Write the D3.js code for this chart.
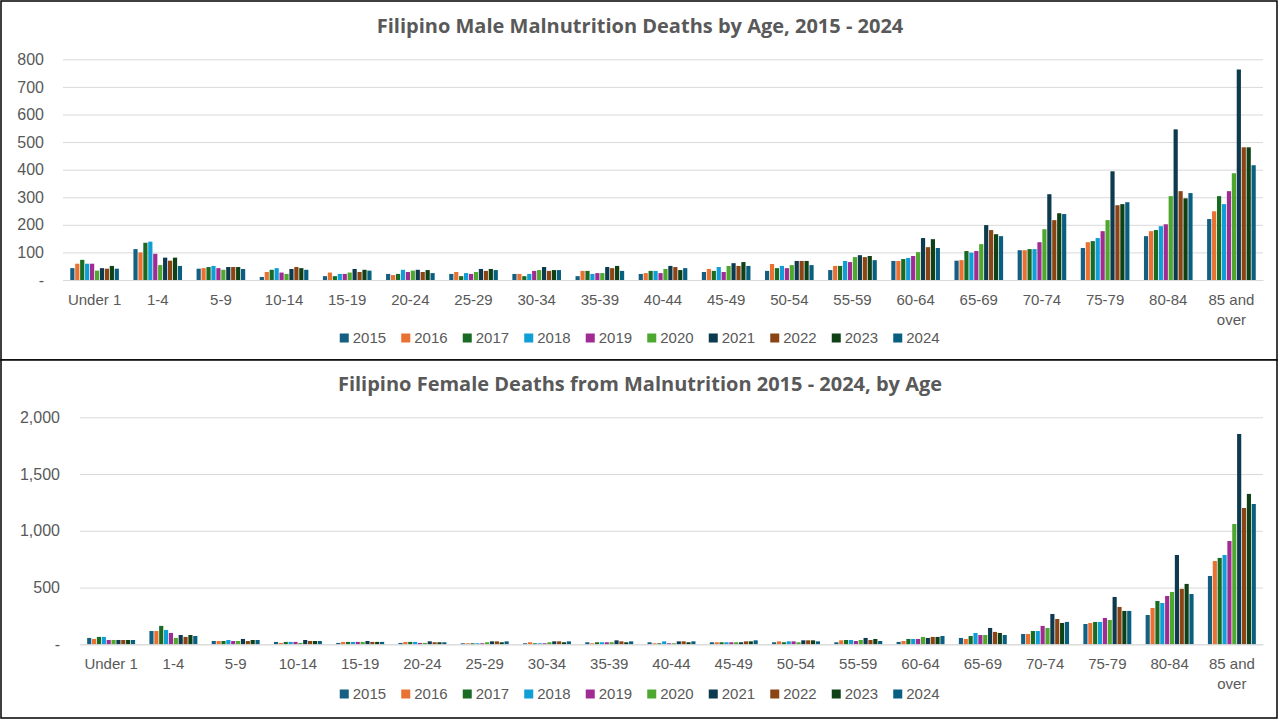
<!DOCTYPE html>
<html>
<head>
<meta charset="utf-8">
<script src="https://cdn.jsdelivr.net/npm/d3@7"></script>
<style>
  body { margin: 0; background: #fff; }
  svg text { font-family: "Liberation Sans", Arial, sans-serif; fill: #595959; }
  .title { font-family: "Open Sans", "Liberation Sans", sans-serif; font-weight: 700; }
</style>
</head>
<body>
<svg id="chart" width="1280" height="720"></svg>
<script>
// age groups (x categories) and legend years
const ageGroups = ['Under 1', '1-4', '5-9', '10-14', '15-19', '20-24', '25-29', '30-34', '35-39',
  '40-44', '45-49', '50-54', '55-59', '60-64', '65-69', '70-74', '75-79', '80-84', '85 and over'];
const years = ['2015', '2016', '2017', '2018', '2019', '2020', '2021', '2022', '2023', '2024'];
const yearColors = ['#156082', '#E97132', '#196B24', '#0F9ED5', '#A02B93', '#4EA72E',
  '#0D3A4E', '#8B4414', '#0F4016', '#095F80'];

// male deaths, one row per age group, columns 2015..2024
const maleDeaths = [
  [43, 59, 73, 59, 59, 34, 43, 41, 51, 41],
  [112, 100, 135, 139, 95, 54, 81, 70, 81, 51],
  [41, 43, 47, 51, 43, 37, 47, 47, 47, 40],
  [11, 29, 37, 43, 27, 22, 40, 47, 43, 37],
  [14, 27, 14, 22, 22, 27, 40, 29, 37, 34],
  [22, 18, 22, 37, 29, 34, 37, 29, 36, 25],
  [22, 29, 14, 25, 22, 29, 40, 33, 40, 36],
  [22, 22, 14, 22, 33, 36, 47, 33, 36, 36],
  [14, 33, 33, 22, 25, 25, 47, 43, 51, 33],
  [22, 25, 33, 33, 25, 40, 51, 47, 36, 43],
  [29, 40, 33, 47, 29, 51, 61, 51, 65, 51],
  [33, 58, 43, 51, 43, 54, 69, 69, 69, 54],
  [36, 51, 51, 69, 65, 83, 90, 83, 87, 72],
  [69, 69, 76, 80, 87, 101, 152, 119, 148, 116],
  [70, 72, 105, 99, 105, 130, 199, 181, 166, 159],
  [108, 108, 112, 112, 137, 184, 311, 217, 242, 239],
  [116, 137, 141, 152, 177, 217, 394, 271, 275, 282],
  [159, 177, 181, 195, 202, 304, 546, 322, 296, 315],
  [221, 249, 304, 275, 322, 387, 763, 481, 481, 416]
];

// female deaths, same layout
const femaleDeaths = [
  [56, 47, 65, 65, 38, 38, 38, 38, 38, 38],
  [117, 117, 162, 126, 100, 56, 82, 65, 82, 73],
  [29, 29, 29, 38, 29, 29, 47, 29, 38, 38],
  [21, 12, 21, 21, 21, 12, 38, 29, 29, 29],
  [12, 21, 21, 21, 21, 21, 29, 21, 21, 21],
  [12, 21, 21, 21, 12, 12, 26, 18, 18, 18],
  [9, 9, 9, 9, 9, 18, 26, 26, 18, 26],
  [9, 18, 9, 9, 9, 18, 26, 26, 18, 26],
  [18, 9, 18, 18, 18, 18, 35, 26, 18, 26],
  [18, 9, 9, 26, 9, 9, 26, 26, 18, 26],
  [18, 18, 18, 18, 18, 18, 18, 26, 26, 35],
  [18, 26, 18, 26, 26, 18, 35, 35, 35, 26],
  [18, 35, 38, 38, 29, 38, 56, 38, 47, 29],
  [21, 29, 47, 47, 47, 65, 56, 65, 65, 73],
  [56, 47, 73, 100, 82, 82, 144, 109, 100, 82],
  [91, 91, 117, 117, 162, 144, 267, 223, 188, 197],
  [179, 188, 197, 197, 232, 214, 417, 329, 294, 294],
  [258, 320, 382, 364, 426, 461, 787, 488, 532, 443],
  [602, 734, 761, 787, 910, 1060, 1853, 1201, 1325, 1236]
];

const maleTicks = [0, 100, 200, 300, 400, 500, 600, 700, 800];
const femaleTicks = [0, 500, 1000, 1500, 2000];

const svg = d3.select('#chart');
const tickFormat = d => d === 0 ? '-' : d3.format(',')(d);

function drawPanel(cfg) {
  const g = svg.append('g');
  // panel frame
  g.append('rect')
    .attr('x', 1).attr('y', cfg.top).attr('width', 1276).attr('height', cfg.height)
    .attr('fill', '#fff').attr('stroke', '#000').attr('stroke-width', 1.5);

  g.append('text').attr('class', 'title')
    .attr('x', 640).attr('y', cfg.titleY)
    .attr('text-anchor', 'middle').style('font-size', '20px')
    .text(cfg.title);

  const x0 = d3.scaleBand().domain(ageGroups)
    .range([cfg.left, 1263]).paddingInner(0.23).paddingOuter(0.115);
  const x1 = d3.scaleBand().domain(years)
    .range([0, x0.bandwidth()]).paddingInner(0.15);
  const y = d3.scaleLinear().domain([0, cfg.max]).range([cfg.y0, cfg.yTop]);

  // gridlines
  const yAxis = d3.axisLeft(y).tickValues(cfg.ticks).tickFormat(tickFormat)
    .tickSize(-(1263 - cfg.left)).tickPadding(cfg.left - cfg.labelX);
  const ya = g.append('g').attr('transform', `translate(${cfg.left},0)`).call(yAxis);
  ya.select('.domain').remove();
  ya.selectAll('line').attr('stroke', '#d9d9d9');
  ya.selectAll('text').style('font-size', '16px').style('fill', '#595959');

  // bars
  g.append('g').selectAll('g').data(cfg.data).join('g')
    .attr('transform', (d, i) => `translate(${x0(ageGroups[i])},0)`)
    .selectAll('rect').data(d => d).join('rect')
    .attr('x', (d, j) => x1(years[j]))
    .attr('width', x1.bandwidth())
    .attr('y', d => y(d))
    .attr('height', d => y(0) - y(d))
    .attr('fill', (d, j) => yearColors[j]);

  // x axis
  const xAxis = d3.axisBottom(x0).tickSize(0).tickPadding(0);
  const xa = g.append('g').attr('transform', `translate(0,${cfg.y0})`).call(xAxis);
  xa.select('.domain').attr('stroke', '#d9d9d9');
  xa.selectAll('text').remove();
  xa.selectAll('.tick').each(function (d) {
    const t = d3.select(this).append('text')
      .attr('text-anchor', 'middle').style('font-size', '15px').style('fill', '#595959');
    const lines = d === '85 and over' ? ['85 and', 'over'] : [d];
    lines.forEach((ln, k) => t.append('tspan').attr('x', 0).attr('y', 25 + k * 20).text(ln));
  });

  // legend
  const pitch = 61.5;
  const startX = 640 - (pitch * (years.length - 1) + 47) / 2;
  const lg = g.append('g').attr('transform', `translate(${startX},${cfg.legendY})`);
  const item = lg.selectAll('g').data(years).join('g')
    .attr('transform', (d, i) => `translate(${i * pitch},0)`);
  item.append('rect').attr('x', 0).attr('y', -4.5).attr('width', 9).attr('height', 9)
    .attr('fill', (d, i) => yearColors[i]);
  item.append('text').attr('x', 13).attr('y', 0).attr('dy', '0.35em')
    .style('font-size', '15px').text(d => d);
}

drawPanel({
  top: 1, height: 359, title: 'Filipino Male Malnutrition Deaths by Age, 2015 - 2024',
  titleY: 33, left: 63, labelX: 44, y0: 280, yTop: 59.3, max: 800,
  ticks: maleTicks, data: maleDeaths, legendY: 338
});
drawPanel({
  top: 360, height: 358, title: 'Filipino Female Deaths from Malnutrition 2015 - 2024, by Age',
  titleY: 391, left: 80, labelX: 60, y0: 644.3, yTop: 417.3, max: 2000,
  ticks: femaleTicks, data: femaleDeaths, legendY: 694
});
</script>
</body>
</html>
